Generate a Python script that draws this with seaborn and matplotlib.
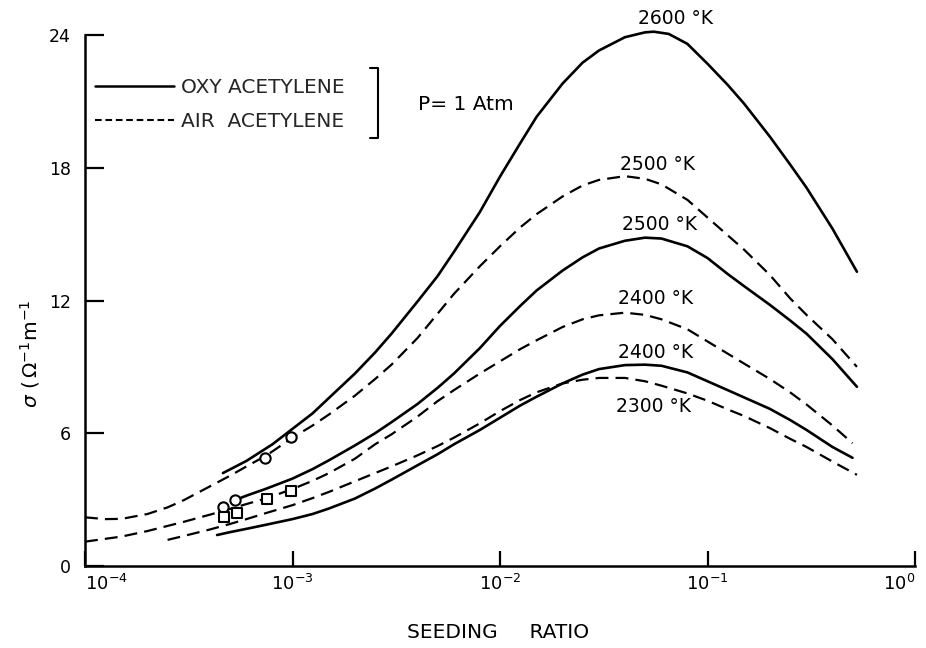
import matplotlib
matplotlib.use("Agg")
import matplotlib.pyplot as plt
import seaborn as sns
import pandas as pd
from matplotlib.lines import Line2D
from matplotlib.ticker import FixedLocator, NullLocator, LogFormatterSciNotation

# Electrical conductivity of seeded flames versus seeding ratio (P = 1 atm)
oxy_2600_ratio = [4.62e-4, 6e-4, 8e-4, 1e-3, 1.25e-3, 1.5e-3, 2e-3, 2.5e-3, 3e-3, 4e-3,
                  5e-3, 6e-3, 8e-3, 1e-2, 1.25e-2, 1.5e-2, 2e-2, 2.5e-2, 3e-2, 4e-2,
                  5e-2, 5.5e-2, 6.5e-2, 8e-2, 0.1, 0.125, 0.15, 0.2, 0.25, 0.3, 0.4, 0.525]
oxy_2600_sigma = [4.2, 4.75, 5.5, 6.2, 6.9, 7.6, 8.7, 9.65, 10.5, 11.95,
                  13.1, 14.2, 16.0, 17.6, 19.1, 20.3, 21.8, 22.75, 23.3, 23.9,
                  24.12, 24.15, 24.05, 23.6, 22.7, 21.75, 20.9, 19.4, 18.15, 17.1, 15.25, 13.3]

air_2500_ratio = [1e-4, 1.25e-4, 1.5e-4, 2e-4, 2.5e-4, 3e-4, 4e-4, 5e-4, 6e-4, 7.5e-4,
                  1e-3, 1.25e-3, 1.5e-3, 2e-3, 2.5e-3, 3e-3, 4e-3, 5e-3, 6e-3, 8e-3,
                  1e-2, 1.25e-2, 1.5e-2, 2e-2, 2.5e-2, 3e-2, 4e-2, 5e-2, 6e-2, 8e-2,
                  0.1, 0.125, 0.15, 0.2, 0.25, 0.3, 0.4, 0.525]
air_2500_sigma = [2.2, 2.12, 2.13, 2.35, 2.65, 2.98, 3.6, 4.08, 4.5, 5.0,
                  5.8, 6.35, 6.85, 7.7, 8.45, 9.1, 10.3, 11.4, 12.3, 13.55,
                  14.45, 15.3, 15.9, 16.7, 17.2, 17.45, 17.62, 17.5, 17.25, 16.55,
                  15.75, 14.95, 14.3, 13.15, 12.1, 11.35, 10.25, 9.0]

oxy_2500_ratio = [5.2e-4, 6e-4, 7.5e-4, 1e-3, 1.25e-3, 1.5e-3, 2e-3, 2.5e-3, 3e-3, 4e-3,
                  5e-3, 6e-3, 8e-3, 1e-2, 1.25e-2, 1.5e-2, 2e-2, 2.5e-2, 3e-2, 4e-2,
                  5e-2, 6e-2, 8e-2, 0.1, 0.125, 0.15, 0.2, 0.25, 0.3, 0.4, 0.525]
oxy_2500_sigma = [2.95, 3.18, 3.5, 3.95, 4.38, 4.78, 5.45, 6.0, 6.5, 7.32,
                  8.05, 8.7, 9.85, 10.85, 11.75, 12.45, 13.35, 13.95, 14.35, 14.7,
                  14.84, 14.8, 14.45, 13.92, 13.2, 12.65, 11.8, 11.1, 10.5, 9.35, 8.1]

air_2400_ratio = [1e-4, 1.5e-4, 2e-4, 3e-4, 4e-4, 5e-4, 6e-4, 7.5e-4, 1e-3, 1.25e-3,
                  1.5e-3, 2e-3, 2.5e-3, 3e-3, 4e-3, 5e-3, 6e-3, 8e-3, 1e-2, 1.25e-2,
                  1.5e-2, 2e-2, 2.5e-2, 3e-2, 4e-2, 5e-2, 6e-2, 8e-2, 0.1, 0.125,
                  0.15, 0.2, 0.25, 0.3, 0.4, 0.5]
air_2400_sigma = [1.1, 1.33, 1.58, 2.0, 2.32, 2.58, 2.8, 3.06, 3.48, 3.85,
                  4.2, 4.85, 5.5, 5.95, 6.75, 7.45, 7.95, 8.7, 9.25, 9.8,
                  10.2, 10.8, 11.15, 11.33, 11.45, 11.35, 11.15, 10.7, 10.15, 9.6,
                  9.15, 8.45, 7.85, 7.3, 6.35, 5.55]

oxy_2400_ratio = [4.33e-4, 5e-4, 6e-4, 7.5e-4, 1e-3, 1.25e-3, 1.5e-3, 2e-3, 2.5e-3, 3e-3,
                  4e-3, 5e-3, 6e-3, 8e-3, 1e-2, 1.25e-2, 1.5e-2, 2e-2, 2.5e-2, 3e-2,
                  4e-2, 5e-2, 6e-2, 8e-2, 0.1, 0.125, 0.15, 0.2, 0.25, 0.3, 0.4, 0.5]
oxy_2400_sigma = [1.4, 1.53, 1.68, 1.87, 2.12, 2.35, 2.6, 3.05, 3.5, 3.9,
                  4.55, 5.05, 5.5, 6.15, 6.7, 7.25, 7.65, 8.25, 8.65, 8.9,
                  9.08, 9.1, 9.05, 8.75, 8.35, 7.95, 7.62, 7.1, 6.6, 6.15, 5.38, 4.89]

air_2300_ratio = [2.5e-4, 3e-4, 4e-4, 5e-4, 6e-4, 7.5e-4, 1e-3, 1.25e-3, 1.5e-3, 2e-3,
                  2.5e-3, 3e-3, 4e-3, 5e-3, 6e-3, 8e-3, 1e-2, 1.25e-2, 1.5e-2, 2e-2,
                  2.5e-2, 3e-2, 4e-2, 5e-2, 6e-2, 8e-2, 0.1, 0.125, 0.15, 0.2,
                  0.25, 0.3, 0.4, 0.525]
air_2300_sigma = [1.18, 1.36, 1.65, 1.9, 2.12, 2.4, 2.75, 3.07, 3.35, 3.83,
                  4.2, 4.5, 5.0, 5.42, 5.8, 6.45, 7.0, 7.5, 7.85, 8.25,
                  8.42, 8.5, 8.5, 8.35, 8.15, 7.8, 7.47, 7.08, 6.78, 6.23,
                  5.75, 5.38, 4.72, 4.12]

# measured points
circle_ratio = [4.6e-4, 5.3e-4, 7.4e-4, 9.8e-4]
circle_sigma = [2.67, 2.99, 4.89, 5.84]
square_ratio = [4.7e-4, 5.4e-4, 7.5e-4, 9.8e-4]
square_sigma = [2.22, 2.40, 3.03, 3.39]

curve_labels = ["2600 \u00b0K", "2500 \u00b0K", "2500 \u00b0K", "2400 \u00b0K", "2400 \u00b0K", "2300 \u00b0K"]
x_ticks = [1e-4, 1e-3, 1e-2, 1e-1, 1e0]
y_ticks = [0, 6, 12, 18, 24]

sns.set_theme(style="white")
plt.rcParams["font.family"] = ["DejaVu Sans"]
plt.rcParams["mathtext.fontset"] = "dejavusans"

fig = plt.figure(figsize=(9.26, 6.48), dpi=100)
ax = fig.add_axes([85 / 926, 1 - 566 / 648, 830 / 926, 531 / 648])

dash = (0, (5.8, 3.2))
series = [
    (oxy_2600_ratio, oxy_2600_sigma, "-"),
    (air_2500_ratio, air_2500_sigma, dash),
    (oxy_2500_ratio, oxy_2500_sigma, "-"),
    (air_2400_ratio, air_2400_sigma, dash),
    (oxy_2400_ratio, oxy_2400_sigma, "-"),
    (air_2300_ratio, air_2300_sigma, dash),
]
for xs, ys, ls in series:
    df = pd.DataFrame({"ratio": xs, "sigma": ys})
    sns.lineplot(data=df, x="ratio", y="sigma", ax=ax, color="black",
                 lw=1.9 if ls == "-" else 1.6, linestyle=ls, estimator=None,
                 clip_on=False, zorder=2, solid_joinstyle="round")

sns.scatterplot(x=circle_ratio, y=circle_sigma, ax=ax, marker="o", s=55,
                facecolor="white", edgecolor="black", linewidth=1.5, zorder=3, clip_on=False)
sns.scatterplot(x=square_ratio, y=square_sigma, ax=ax, marker="s", s=60,
                facecolor="white", edgecolor="black", linewidth=1.5, zorder=3, clip_on=False)

ax.set_xscale("log")
ax.set_xlim(1e-4, 1e0)
ax.set_ylim(0, 24)
ax.xaxis.set_major_locator(FixedLocator(x_ticks))
ax.xaxis.set_major_formatter(LogFormatterSciNotation())
ax.xaxis.set_minor_locator(NullLocator())
ax.set_yticks(y_ticks)
ax.set_yticklabels([str(v) for v in y_ticks])

for side in ("top", "right"):
    ax.spines[side].set_visible(False)
for side in ("left", "bottom"):
    ax.spines[side].set_linewidth(1.8)
    ax.spines[side].set_color("black")

ax.tick_params(axis="y", direction="in", length=14, width=1.6, pad=10,
               labelsize=12.5, colors="black", left=True)
ax.tick_params(axis="x", direction="in", length=11, width=1.6, pad=6,
               labelsize=13, colors="black", bottom=True)
fig.canvas.draw()
xlabels = ax.get_xticklabels()
xlabels[0].set_ha("left")
xlabels[-1].set_ha("right")

ax.set_xlabel("SEEDING     RATIO", fontsize=14.5, color="black")
ax.xaxis.set_label_coords((498 - 85) / 830, -(632 - 566) / 531)
ax.xaxis.label.set_va("center")
ax.set_ylabel(r"$\sigma\ (\,\Omega^{-1}\mathrm{m}^{-1}$", fontsize=14.5, color="black")
ax.yaxis.set_label_coords(-0.066, 0.40)
ax.yaxis.label.set_va("center")

# temperature labels next to the peaks (axes-fraction positions)
label_pos = [(638, 18), (620, 165), (622, 225), (618, 298), (618, 353), (616, 407)]
for text, (px, py) in zip(curve_labels, label_pos):
    ax.text((px - 85) / 830, (566 - py) / 531, text, transform=ax.transAxes,
            ha="left", va="center", fontsize=13.5, color="black")
ax.text((418 - 85) / 830, (566 - 105) / 531, "P= 1 Atm", transform=ax.transAxes,
        ha="left", va="center", fontsize=14.5, color="black")

handles = [Line2D([], [], color="black", lw=1.8, ls="-"),
           Line2D([], [], color="black", lw=1.5, ls=(0, (3.2, 1.8)))]
ax.legend(handles, ["OXY ACETYLENE", "AIR  ACETYLENE"], loc="upper left",
          bbox_to_anchor=(95 / 926, 1 - 78 / 648), bbox_transform=fig.transFigure,
          frameon=False, handlelength=3.9, handletextpad=0.35, labelspacing=0.75,
          borderpad=0, borderaxespad=0, fontsize=14.5)
fig.add_artist(Line2D([370 / 926, 378 / 926, 378 / 926, 370 / 926],
                      [1 - 68 / 648, 1 - 68 / 648, 1 - 138 / 648, 1 - 138 / 648],
                      transform=fig.transFigure, color="black", lw=1.5))

fig.savefig("out.png", dpi=100, facecolor="white")
